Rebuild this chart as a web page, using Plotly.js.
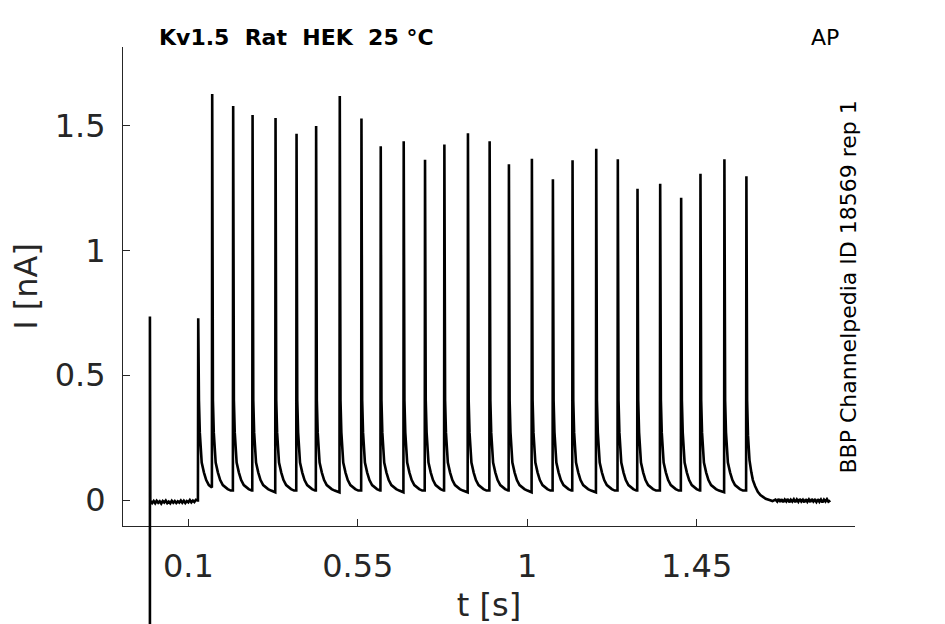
<!DOCTYPE html>
<html>
<head>
<meta charset="utf-8">
<script src="https://cdn.plot.ly/plotly-3.0.1.min.js"></script>
<style>
  body { margin: 0; background: #fff; }
  #graph { width: 945px; height: 624px; }
</style>
</head>
<body>
<div id="graph"></div>
<script>
// stimulus artifact at t = 0 (runs off the bottom of the axes)
var artT = [-0.002, -0.002];
var artI = [-0.60, 0.735];

// baseline before the first AP
var preT = [-0.001, 0.004, 0.008, 0.012, 0.016, 0.020, 0.024, 0.028, 0.032, 0.036,
            0.040, 0.044, 0.048, 0.052, 0.056, 0.060, 0.064, 0.068, 0.072, 0.076,
            0.080, 0.084, 0.088, 0.092, 0.096, 0.100, 0.104, 0.108, 0.112, 0.116, 0.120, 0.1245];
var preI = [-0.002, -0.012, -0.004, -0.013, -0.003, -0.011, -0.005, -0.014, -0.004, -0.010,
            -0.002, -0.012, -0.006, -0.013, -0.003, -0.011, -0.004, -0.012, -0.005, -0.010,
            -0.002, -0.011, -0.003, -0.012, -0.004, -0.009, 0.000, -0.009, -0.002, -0.008, 0.001, -0.002];

// AP onsets [s] and peak currents [nA]
var spikeT = [0.1255, 0.1626, 0.2183, 0.2698, 0.3308, 0.3866, 0.4386, 0.5014, 0.5590,
              0.6102, 0.6712, 0.7278, 0.7792, 0.8418, 0.8994, 0.9506, 1.0116, 1.0674,
              1.1196, 1.1825, 1.2398, 1.2921, 1.3523, 1.4080, 1.4593, 1.5229, 1.5813];
var spikeI = [0.728, 1.627, 1.579, 1.543, 1.531, 1.467, 1.499, 1.619, 1.529,
              1.417, 1.437, 1.363, 1.424, 1.469, 1.437, 1.345, 1.367, 1.285,
              1.361, 1.407, 1.365, 1.247, 1.267, 1.211, 1.307, 1.365, 1.297];

// decay after each AP (time after onset [s], current [nA])
var tailDt = [0.001, 0.0027, 0.005, 0.007, 0.010, 0.016, 0.022, 0.029, 0.036, 0.042, 0.050, 0.060];
var tailI  = [0.55, 0.40, 0.27, 0.20, 0.15, 0.11, 0.08, 0.06, 0.05, 0.044, 0.038, 0.031];

// decay after the last AP
var endDt = [0.001, 0.0027, 0.005, 0.009, 0.014, 0.018, 0.024, 0.031, 0.038, 0.044, 0.052, 0.062, 0.070, 0.078];
var endI  = [0.55, 0.40, 0.26, 0.16, 0.11, 0.08, 0.055, 0.033, 0.020, 0.012, 0.005, 0.000, -0.004, 0.002];

// baseline after the train
var postT = [1.664, 1.668, 1.672, 1.676, 1.680, 1.684, 1.688, 1.692, 1.696, 1.700,
             1.704, 1.708, 1.712, 1.716, 1.720, 1.724, 1.728, 1.732, 1.736, 1.740,
             1.744, 1.748, 1.752, 1.756, 1.760, 1.764, 1.768, 1.772, 1.776, 1.780,
             1.784, 1.788, 1.792, 1.796, 1.800, 1.805];
var postI = [-0.006, 0.004, -0.007, 0.003, -0.008, 0.002, -0.006, 0.004, -0.009, 0.001,
             -0.006, 0.003, -0.008, 0.002, -0.007, 0.004, -0.006, 0.001, -0.009, 0.003,
             -0.007, 0.002, -0.008, 0.004, -0.006, 0.001, -0.008, 0.003, -0.007, 0.002,
             -0.009, 0.002, -0.006, 0.003, -0.007, -0.002];

var xTicks = [0.1, 0.55, 1, 1.45];
var xTickText = ["0.1", "0.55", "1", "1.45"];
var yTicks = [0, 0.5, 1, 1.5];
var yTickText = ["0", "0.5", "1", "1.5"];

var tt = [], ii = [];
function add(t, v){
    tt.push(t);
    ii.push(v);
}

for(let k = 0; k < artT.length; k++) add(artT[k], artI[k]);
for(let k = 0; k < preT.length; k++) add(preT[k], preI[k]);

for(let k = 0; k < spikeT.length; k++){
    var t0 = spikeT[k];
    var last = k == spikeT.length - 1;
    var next = last ? Infinity : spikeT[k + 1];
    var dts = last ? endDt : tailDt;
    var vs = last ? endI : tailI;
    add(t0, ii[ii.length - 1]);
    add(t0 + 0.0008, spikeI[k]);
    for(let j = 0; j < dts.length; j++){
        if(t0 + dts[j] < next - 0.0005) add(t0 + dts[j], vs[j]);
    }
}
for(let k = 0; k < postT.length; k++) add(postT[k], postI[k]);

var font = "DejaVu Sans, sans-serif";
var axisColor = "#262626";

var trace = {
    type: "scatter",
    mode: "lines",
    x: tt,
    y: ii,
    line: {color: "#000000", width: 2.6},
    hoverinfo: "skip"
};

var axisBase = {
    showgrid: false,
    zeroline: false,
    showline: true,
    linecolor: axisColor,
    linewidth: 1,
    ticks: "inside",
    ticklen: 7,
    tickwidth: 1,
    tickcolor: axisColor,
    tickfont: {family: font, size: 32, color: axisColor}
};

var layout = {
    width: 945,
    height: 624,
    margin: {l: 123, r: 90, t: 47, b: 98, pad: 0},
    paper_bgcolor: "#ffffff",
    plot_bgcolor: "#ffffff",
    showlegend: false,
    xaxis: Object.assign({}, axisBase, {
        range: [-0.0735, 1.8705],
        tickmode: "array",
        tickvals: xTicks,
        ticktext: xTickText,
        ticklabelstandoff: 12,
        title: {text: "t [s]", font: {family: font, size: 32, color: axisColor}, standoff: 14}
    }),
    yaxis: Object.assign({}, axisBase, {
        range: [-0.104, 1.815],
        tickmode: "array",
        tickvals: yTicks,
        ticktext: yTickText,
        ticklabelstandoff: 10,
        title: {text: "I [nA]", font: {family: font, size: 32, color: axisColor}, standoff: 7}
    }),
    shapes: [{
        type: "line",
        xref: "x", yref: "paper",
        x0: artT[0], x1: artT[0],
        y0: -0.3, y1: 0,
        line: {color: "#000000", width: 2.6},
        layer: "above"
    }],
    annotations: [
        {
            xref: "paper", yref: "paper", x: 0.2377, y: 1,
            xanchor: "center", yanchor: "bottom", yshift: -5,
            text: "<b>Kv1.5\u00a0\u00a0Rat\u00a0\u00a0HEK\u00a0\u00a025 \u00b0C</b>",
            showarrow: false,
            font: {family: font, size: 22, color: "#000000"}
        },
        {
            xref: "paper", yref: "paper", x: 0.959, y: 1,
            xanchor: "center", yanchor: "bottom", yshift: -5,
            text: "AP",
            showarrow: false,
            font: {family: font, size: 22, color: "#000000"}
        },
        {
            xref: "paper", yref: "paper", x: 0.9918, y: 0.5,
            xanchor: "center", yanchor: "middle",
            text: "BBP Channelpedia ID 18569 rep 1",
            textangle: -90,
            showarrow: false,
            font: {family: font, size: 22, color: "#000000"}
        }
    ]
};

Plotly.newPlot("graph", [trace], layout, {staticPlot: true, displayModeBar: false});
</script>
</body>
</html>
